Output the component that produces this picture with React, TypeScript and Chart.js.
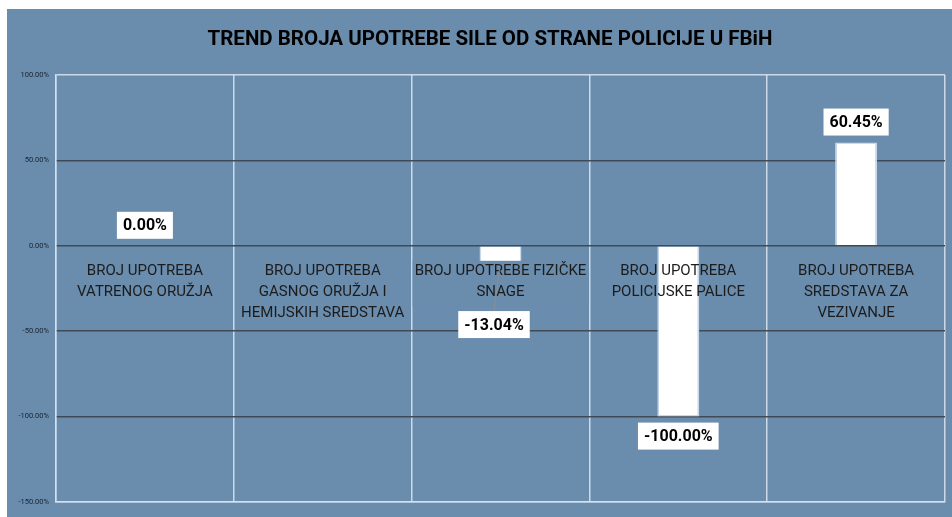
import React, { useEffect, useRef } from "react";
import { Chart, registerables } from "chart.js";

Chart.register(...registerables);

const title = "TREND BROJA UPOTREBE SILE OD STRANE POLICIJE U FBiH";
const categories: string[][] = [
  ["BROJ UPOTREBA", "VATRENOG ORUŽJA"],
  ["BROJ UPOTREBA", "GASNOG ORUŽJA I", "HEMIJSKIH SREDSTAVA"],
  ["BROJ UPOTREBE FIZIČKE", "SNAGE"],
  ["BROJ UPOTREBA", "POLICIJSKE PALICE"],
  ["BROJ UPOTREBA", "SREDSTAVA ZA", "VEZIVANJE"],
];
const values: (number | null)[] = [0, null, -13.04, -100, 60.45];
const yMin = -150;
const yMax = 100;
const yStep = 50;

// label placement tweaks (style only)
const labelDx = [0, 0, -6.5, 0, 0];
const labelDy = [0, 0, 37, 0, 0];
const catLabelFill = [false, false, true, false, false];

const BG = "#6a8cad";
const LIGHT = "rgba(215,226,238,0.9)";
const DARK = "#3f4a55";

export default function App() {
  const ref = useRef<HTMLCanvasElement | null>(null);

  useEffect(() => {
    if (!ref.current) return;

    const catLabelPlugin = {
      id: "catLabels",
      afterDatasetsDraw(chart: any) {
        const ctx = chart.ctx;
        const xs = chart.scales.x;
        const ys = chart.scales.y;
        const y0 = ys.getPixelForValue(0);
        ctx.save();
        ctx.font = "15px Roboto";
        ctx.textAlign = "center";
        ctx.textBaseline = "alphabetic";
        categories.forEach((lines, i) => {
          const cx = xs.getPixelForValue(i);
          let w = 0;
          lines.forEach((l) => (w = Math.max(w, ctx.measureText(l).width)));
          if (catLabelFill[i]) {
            ctx.fillStyle = BG;
            ctx.fillRect(cx - w / 2 - 2, y0 + 15, w + 4, lines.length * 21 + 4);
          }
          ctx.fillStyle = "#1c1c1c";
          lines.forEach((l, k) => ctx.fillText(l, cx, y0 + 29 + k * 21));
        });
        ctx.restore();
      },
    };

    const dataLabelPlugin = {
      id: "dataLabels",
      afterDraw(chart: any) {
        const ctx = chart.ctx;
        const meta = chart.getDatasetMeta(0);
        ctx.save();
        ctx.font = "bold 16px Roboto";
        ctx.textAlign = "center";
        ctx.textBaseline = "middle";
        values.forEach((v, i) => {
          if (v === null || v === undefined) return;
          const el = meta.data[i];
          const txt = v.toFixed(2) + "%";
          const tw = ctx.measureText(txt).width;
          const bw = tw + 12;
          const bh = 27;
          const cx = el.x + labelDx[i];
          let top: number;
          if (v >= 0) {
            top = el.y - 7 - bh - labelDy[i];
          } else {
            top = el.y + 6 + labelDy[i];
          }
          if (labelDy[i] > 0) {
            ctx.strokeStyle = "#8a8f94";
            ctx.lineWidth = 1;
            ctx.beginPath();
            ctx.moveTo(el.x - 1, el.y + 1);
            ctx.lineTo(cx, v >= 0 ? top + bh : top);
            ctx.stroke();
          }
          ctx.fillStyle = "#ffffff";
          ctx.fillRect(cx - bw / 2, top, bw, bh);
          ctx.fillStyle = "#000000";
          ctx.fillText(txt, cx, top + bh / 2 + 1);
        });
        ctx.restore();
      },
    };

    const titlePlugin = {
      id: "titleDraw",
      afterDraw(chart: any) {
        const ctx = chart.ctx;
        ctx.save();
        ctx.font = "bold 20.5px Roboto";
        ctx.fillStyle = "#000000";
        ctx.textAlign = "center";
        ctx.textBaseline = "alphabetic";
        ctx.fillText(title, 483, 36);
        ctx.restore();
      },
    };

    const chart = new Chart(ref.current, {
      type: "bar",
      data: {
        labels: categories.map((c) => c.join(" ")),
        datasets: [
          {
            data: values as any,
            backgroundColor: "#ffffff",
            borderColor: "#c9d9ea",
            borderWidth: 1.5,
            barPercentage: 0.236,
            categoryPercentage: 1,
          },
        ],
      },
      options: {
        animation: false,
        responsive: true,
        maintainAspectRatio: false,
        layout: { padding: { left: 0, top: 66, right: 7, bottom: 15 } },
        plugins: {
          legend: { display: false },
          title: { display: false },
          tooltip: { enabled: false },
        },
        scales: {
          x: {
            offset: true,
            grid: {
              offset: true,
              color: LIGHT,
              lineWidth: 1.5,
              drawTicks: false,
            },
            border: { color: LIGHT, width: 1.5 },
            ticks: { display: false },
          },
          y: {
            min: yMin,
            max: yMax,
            afterFit: (s: any) => {
              s.width = 49;
            },
            ticks: {
              stepSize: yStep,
              padding: 7,
              font: { family: "Roboto", size: 7.5 },
              color: "#1a2430",
              callback: (v: any) => Number(v).toFixed(2) + "%",
            },
            grid: {
              drawTicks: false,
              lineWidth: 1.5,
              color: (c: any) =>
                c.tick && (c.tick.value === yMax || c.tick.value === yMin) ? LIGHT : DARK,
            },
            border: { color: LIGHT, width: 1.5 },
          },
        },
      },
      plugins: [catLabelPlugin, dataLabelPlugin, titlePlugin],
    });

    return () => chart.destroy();
  }, []);

  return (
    <div
      style={{
        position: "absolute",
        left: 7,
        top: 9,
        width: 945,
        height: 508,
        background: BG,
      }}
    >
      <canvas ref={ref} />
    </div>
  );
}
